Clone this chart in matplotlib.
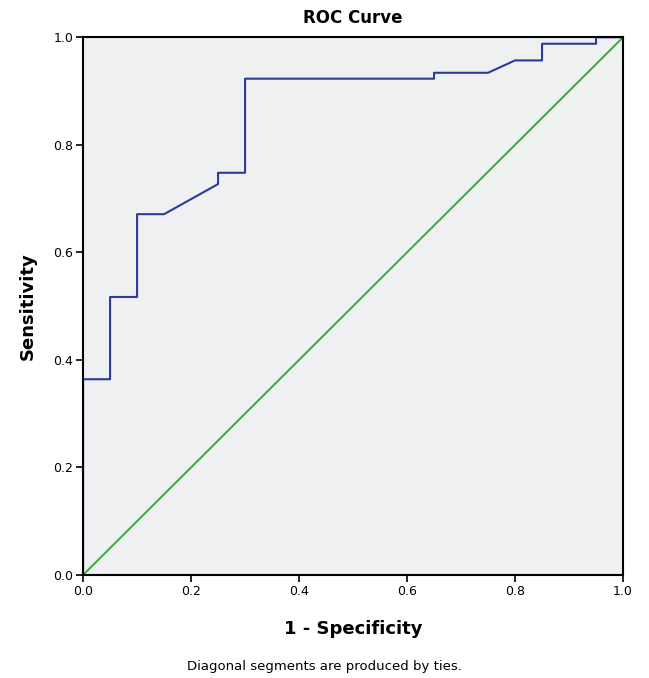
import matplotlib
matplotlib.use("Agg")
import matplotlib.pyplot as plt

# ROC curve points (1 - specificity, sensitivity)
fpr = [0.0, 0.0, 0.05, 0.05, 0.10, 0.10, 0.15, 0.25, 0.25, 0.30, 0.30,
       0.65, 0.65, 0.75, 0.80, 0.85, 0.85, 0.95, 0.95, 1.0]
tpr = [0.0, 0.364, 0.364, 0.517, 0.517, 0.671, 0.671, 0.727, 0.748, 0.748, 0.923,
       0.923, 0.934, 0.934, 0.957, 0.957, 0.988, 0.988, 1.0, 1.0]
ref_line = [0.0, 1.0]
ticks = [0.0, 0.2, 0.4, 0.6, 0.8, 1.0]
tick_labels = ["0.0", "0.2", "0.4", "0.6", "0.8", "1.0"]

fig = plt.figure(figsize=(6.49, 6.78), dpi=100)
ax = fig.add_axes([0.128, 0.152, 0.832, 0.793])
ax.set_facecolor("#eff0f2")

ax.plot(ref_line, ref_line, color="#3aa83a", lw=1.4)
ax.plot(fpr, tpr, color="#2c3a9a", lw=1.5)

ax.set_xlim(0, 1)
ax.set_ylim(0, 1)
ax.set_xticks(ticks)
ax.set_xticklabels(tick_labels)
ax.set_yticks(ticks)
ax.set_yticklabels(tick_labels)
ax.tick_params(direction="out", length=5, width=1.2, labelsize=9, pad=2)
for s in ax.spines.values():
    s.set_linewidth(1.5)
    s.set_color("black")

ax.set_title("ROC Curve", fontsize=12, fontweight="bold", pad=10)
ax.set_xlabel("1 - Specificity", fontsize=13, fontweight="bold", labelpad=16)
ax.set_ylabel("Sensitivity", fontsize=13, fontweight="bold", labelpad=12)
fig.text(0.5, 0.008, "Diagonal segments are produced by ties.", ha="center",
         va="bottom", fontsize=9.5)

fig.savefig("out.png", dpi=100)
